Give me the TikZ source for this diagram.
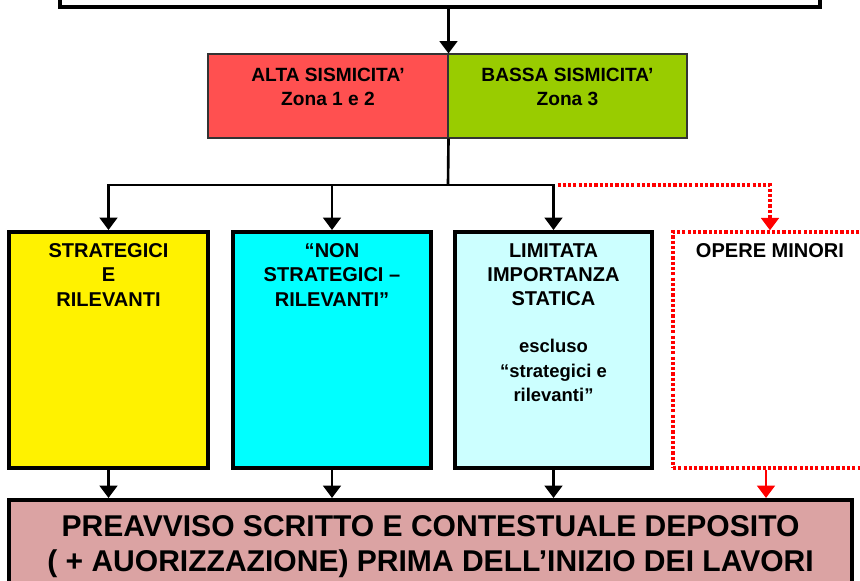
\documentclass[tikz,border=0pt]{standalone}
\usepackage{fontspec}
\setmainfont{Liberation Sans}
\usetikzlibrary{arrows.meta}
\definecolor{altared}{HTML}{FF5050}
\definecolor{bassagreen}{HTML}{99CC00}
\definecolor{strcyan}{HTML}{00FFFF}
\definecolor{limcyan}{HTML}{CCFFFF}
\definecolor{prepink}{HTML}{DBA3A3}
\definecolor{dotred}{HTML}{FF0000}

\begin{document}
\begin{tikzpicture}[x=0.02cm,y=-0.02cm,
  box/.style={draw,line width=2.3pt,inner sep=0pt,minimum height=4.72cm},
  zn/.style={draw=black!80,line width=0.6pt,inner sep=0pt,minimum height=1.68cm},
  lbl/.style={anchor=north,inner sep=0pt,yshift=-0.26cm,align=center,
    font=\fontsize{11.4}{13.9}\selectfont\bfseries},
  zlbl/.style={anchor=north,inner sep=0pt,yshift=-0.28cm,align=center,
    font=\fontsize{10.9}{13.6}\selectfont\bfseries},
  arr/.style={line width=1.5pt,-{Triangle[length=7pt,width=10pt]}},
  redarr/.style={dotred,line width=1.5pt,-{Triangle[length=7pt,width=10pt]}},
  dots/.style={dash pattern=on 1.8pt off 1.2pt},
  reddot/.style={draw=dotred,line width=2pt,dots}]
\useasboundingbox (0,0) rectangle (860,581);

\node[draw,line width=2.3pt,inner sep=0pt,minimum width=15.22cm,minimum height=0.68cm] (top) at (440,-10) {};

\node[zn,fill=altared,minimum width=4.8cm,
  label={[zlbl]north:ALTA SISMICITA’\\Zona 1 e 2}] (alta) at (328,96) {};
\node[zn,fill=bassagreen,minimum width=4.78cm,
  label={[zlbl]north:BASSA SISMICITA’\\Zona 3}] (bassa) at (567.5,96) {};

\node[box,fill=yellow,minimum width=3.98cm,
  label={[lbl]north:STRATEGICI\\E\\RILEVANTI}] (strat) at (108.5,350) {};
\node[box,fill=strcyan,minimum width=3.96cm,
  label={[lbl]north:“NON\\STRATEGICI –\\RILEVANTI”}] (non) at (332,350) {};
\node[box,fill=limcyan,minimum width=3.94cm,
  label={[lbl]north:LIMITATA\\IMPORTANZA\\STATICA\\[0.45cm]{\fontsize{10.5}{12.5}\selectfont escluso}\\{\fontsize{10.5}{12.5}\selectfont “strategici e}\\{\fontsize{10.5}{12.5}\selectfont rilevanti”}}] (limit) at (553.5,350) {};
\node[box,reddot,minimum width=3.88cm,
  label={[lbl]north:OPERE MINORI}] (minori) at (770,350) {};

\node[draw,line width=2.3pt,fill=prepink,inner sep=0pt,minimum width=16.86cm,minimum height=1.8cm,
  label={[anchor=north,inner sep=0pt,yshift=-0.34cm,align=center,
    font=\fontsize{17.1}{19.8}\selectfont\bfseries]north:PREAVVISO SCRITTO E CONTESTUALE DEPOSITO\\( + AUORIZZAZIONE) PRIMA DELL’INIZIO DEI LAVORI}] (pre) at (430.5,545) {};

\coordinate (mid) at (alta.north east);
\coordinate (j) at (448,185);

\draw[arr] (top.south -| mid) -- (mid);
\draw[line width=1.5pt] (alta.south east) -- (j);
\draw[arr] (j) -| (strat.north);
\draw[arr] (j) -| (non.north);
\draw[arr] (j) -| (limit.north);
\draw[redarr,line width=2pt,dots] ([xshift=0.08cm]limit.north |- j) -| (minori.north);

\draw[arr] (strat.south) -- (strat.south |- pre.north);
\draw[arr] (non.south) -- (non.south |- pre.north);
\draw[arr] (limit.south) -- (limit.south |- pre.north);
\draw[redarr] ([xshift=-0.08cm]minori.south) -- ([xshift=-0.08cm]minori.south |- pre.north);
\end{tikzpicture}
\end{document}
